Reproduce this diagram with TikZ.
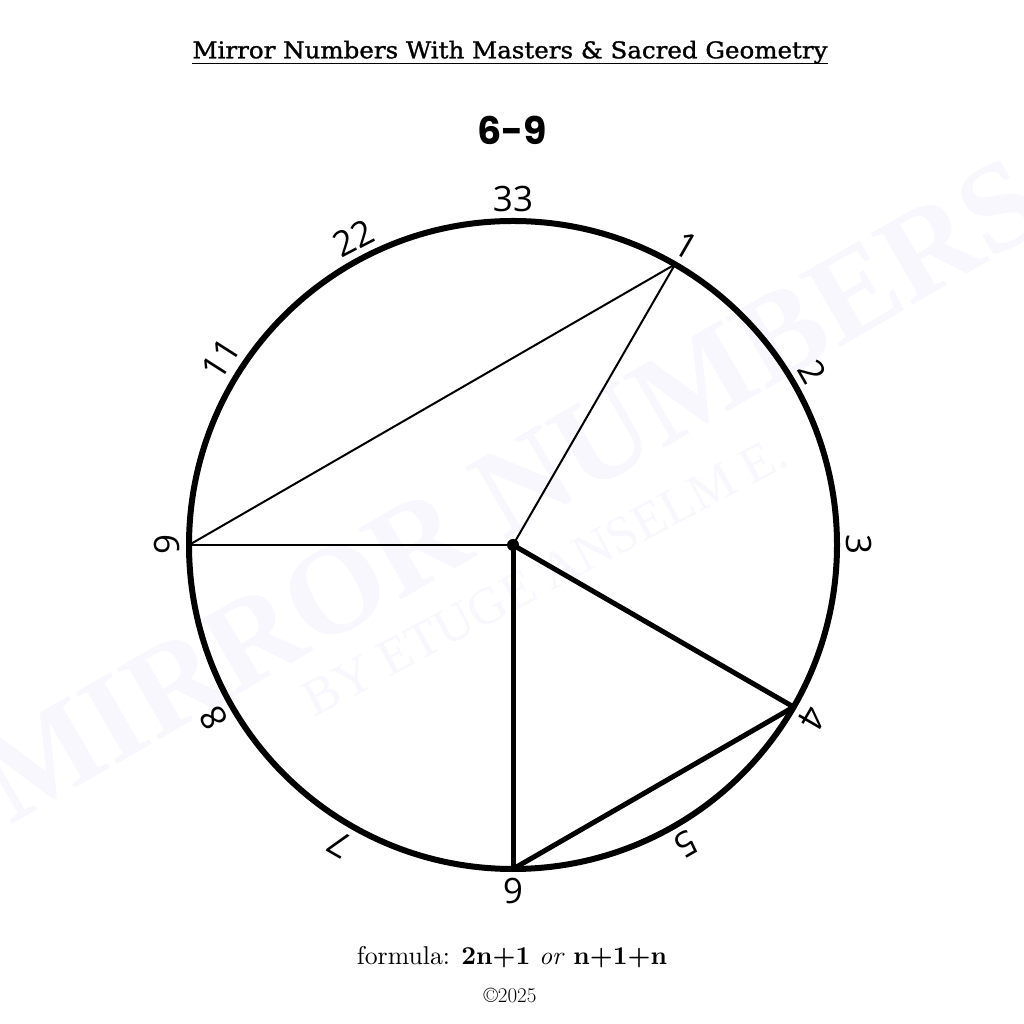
\documentclass[tikz,border=0pt]{standalone}
\usepackage{fontspec}
\usepackage{graphicx}
\usetikzlibrary{calc}
\newfontfamily\titlefont[FakeBold=1.2]{DejaVu Serif}
\newfontfamily\headfont{Poppins}
\newfontfamily\lblfont{Open Sans}
\newfontfamily\wmfont{Liberation Serif}
\definecolor{wmcol}{RGB}{247,247,253}
\tikzset{
  lbl/.style={font=\lblfont\fontsize{35}{35}\selectfont, inner sep=0pt, anchor=center},
  thinln/.style={line width=2pt, line cap=round},
  thickln/.style={line width=5pt, line cap=round, line join=round},
  wm/.style={text=wmcol, inner sep=0pt, anchor=center}
}
\begin{document}
\begin{tikzpicture}[x=1pt,y=1pt]
\useasboundingbox (0,0) rectangle (1024,1024);
\fill[white] (0,0) rectangle (1024,1024);
% watermark
\node[wm, rotate=30] (wm1) at (510,534) {\resizebox{1200pt}{!}{\wmfont\bfseries MIRROR NUMBERS}};
\node[wm, rotate=28] (wm2) at (545,448) {\resizebox{540pt}{!}{\wmfont BY ETUGE ANSELM E.}};
% title
\node[anchor=base, inner sep=0pt] (title) at (510,965.7) {\resizebox{635pt}{17.5pt}{\titlefont Mirror Numbers With Masters \& Sacred Geometry}};
\draw[line width=1.8pt] (title.west |- 0,960.5) coordinate (ulA) -- (title.east |- 0,960.5) coordinate (ulB);
\node[anchor=base, inner sep=0pt, font=\headfont\bfseries\fontsize{38}{38}\selectfont] (head) at (512,879) {6-9};
% geometry
\coordinate (C) at (513,479);
\coordinate (p1) at (675,759.6);
\coordinate (p9) at (189,479);
\coordinate (p4) at (793.6,317);
\coordinate (p6) at (513,155);
\draw[line width=6pt] (C) circle (324);
\draw[thinln] (p9) -- (p1);
\draw[thinln] (p1) -- (C);
\draw[thinln] (C) -- (p9);
\draw[thickln] (C) -- (p4);
\draw[thickln] (C) -- (p6);
\draw[thickln] (p6) -- (p4);
\fill (C) circle (6);
\foreach \a/\t in {90/33,60/1,30/2,0/3,-30/4,-60/5,-90/6,-120/7,-150/8,180/9,147.5/11,117.5/22}{
  \node[lbl, rotate=\a-90] (L\t) at ($(C)+(\a:346)$) {\t};
}
% footer
\node[anchor=base, inner sep=0pt] (formula) at (512,59) {\resizebox{310pt}{!}{formula: \textbf{2n+1} \textit{or} \textbf{n+1+n}}};
\node[anchor=base, inner sep=0pt, font=\fontsize{21}{21}\selectfont] (copy) at (510,21) {\textcopyright2025};
\end{tikzpicture}
\end{document}
